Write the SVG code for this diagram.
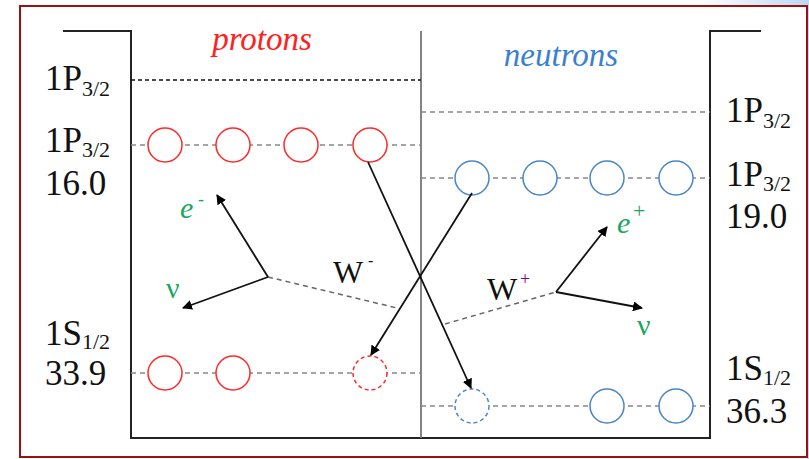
<svg xmlns="http://www.w3.org/2000/svg" width="809" height="459" viewBox="0 0 809 459">
<defs>
<linearGradient id="sky" x1="0" y1="0" x2="1" y2="0">
<stop offset="0" stop-color="#ffffff"/>
<stop offset="1" stop-color="#bcd8f4"/>
</linearGradient>
<marker id="ah" viewBox="0 0 10 10" refX="9" refY="5" markerWidth="10" markerHeight="10" markerUnits="userSpaceOnUse" orient="auto">
<path d="M0,0 L10,5 L0,10 z" fill="#000"/>
</marker>
<style>
.t{font-family:"Liberation Serif","Times New Roman",serif;fill:#111}
.lbl{font-size:35px}
.sub{font-size:22px}
.grn{fill:#1aa860}
.well{fill:none;stroke:#222;stroke-width:2}
.lvl{fill:none;stroke:#888;stroke-width:1.5;stroke-dasharray:5,4}
.lvlk{fill:none;stroke:#111;stroke-width:1.3;stroke-dasharray:4,3}
.wd{fill:none;stroke:#666;stroke-width:1.5;stroke-dasharray:5,4}
.pr{fill:#fff;stroke:#ff2a2a;stroke-width:1.5}
.nu{fill:#fff;stroke:#4a86c8;stroke-width:1.5}
.dash{stroke-dasharray:4,3}
.arr{fill:none;stroke:#111;stroke-width:1.8;marker-end:url(#ah)}
</style>
</defs>
<rect x="0" y="0" width="809" height="459" fill="#fff"/>
<rect x="700" y="0" width="109" height="7" fill="url(#sky)"/>
<rect x="807" y="0" width="2" height="459" fill="#bcd8f4"/>
<rect x="20" y="6" width="787" height="451" fill="none" stroke="#9b1010" stroke-width="2"/>

<g id="wells">
<polyline class="well" points="63,31 131,31 131,438 710,438 710,31 761,31"/>
<line x1="421" y1="31" x2="421" y2="438" stroke="#777" stroke-width="1.8"/>
</g>

<g id="levels">
<line class="lvlk" x1="131" y1="80" x2="421" y2="80"/>
<line class="lvl" x1="131" y1="145" x2="421" y2="145"/>
<line class="lvl" x1="131" y1="373" x2="421" y2="373"/>
<line class="lvl" x1="421" y1="112" x2="710" y2="112"/>
<line class="lvl" x1="421" y1="178" x2="710" y2="178"/>
<line class="lvl" x1="421" y1="406" x2="710" y2="406"/>
</g>

<g id="protons">
<circle class="pr" cx="165" cy="145" r="17"/>
<circle class="pr" cx="233" cy="145" r="17"/>
<circle class="pr" cx="301" cy="145" r="17"/>
<circle class="pr" cx="370" cy="145" r="17"/>
<circle class="pr" cx="165" cy="373" r="17"/>
<circle class="pr" cx="233" cy="373" r="17"/>
<circle class="pr dash" cx="370" cy="373" r="17"/>
</g>

<g id="neutrons">
<circle class="nu" cx="472" cy="178" r="17"/>
<circle class="nu" cx="540" cy="178" r="17"/>
<circle class="nu" cx="607" cy="178" r="17"/>
<circle class="nu" cx="676" cy="178" r="17"/>
<circle class="nu dash" cx="472" cy="406" r="17"/>
<circle class="nu" cx="607" cy="406" r="17"/>
<circle class="nu" cx="676" cy="406" r="17"/>
</g>

<g id="connectors">
<line class="arr" x1="368" y1="162" x2="471" y2="388"/>
<line class="arr" x1="472" y1="193" x2="371" y2="355"/>
<line class="wd" x1="268" y1="277" x2="397" y2="308"/>
<line class="arr" x1="268" y1="277" x2="217" y2="195"/>
<line class="arr" x1="268" y1="277" x2="183" y2="308"/>
<line class="wd" x1="445" y1="324" x2="556" y2="292"/>
<line class="arr" x1="556" y1="292" x2="607" y2="227"/>
<line class="arr" x1="556" y1="292" x2="642" y2="308"/>
</g>

<g id="labels">
<text class="t" x="262" y="50" font-size="33" font-style="italic" text-anchor="middle" style="fill:#ff2020">protons</text>
<text class="t" x="561" y="66" font-size="33" font-style="italic" text-anchor="middle" style="fill:#3a80d0">neutrons</text>

<text class="t lbl" x="45" y="90">1P<tspan class="sub" dy="6">3/2</tspan></text>
<text class="t lbl" x="45" y="152">1P<tspan class="sub" dy="5">3/2</tspan></text>
<text class="t lbl" x="45" y="195">16.0</text>
<text class="t lbl" x="45" y="345">1S<tspan class="sub" dy="4">1/2</tspan></text>
<text class="t lbl" x="45" y="385">33.9</text>

<text class="t lbl" x="726" y="122">1P<tspan class="sub" dy="6">3/2</tspan></text>
<text class="t lbl" x="726" y="186">1P<tspan class="sub" dy="5">3/2</tspan></text>
<text class="t lbl" x="726" y="228">19.0</text>
<text class="t lbl" x="726" y="380">1S<tspan class="sub" dy="5">1/2</tspan></text>
<text class="t lbl" x="726" y="423">36.3</text>

<text class="t grn" x="180" y="218" font-size="30" font-style="italic">e</text>
<text class="t grn" x="198" y="205" font-size="18">-</text>
<text class="t grn" x="166" y="298" font-size="30">ν</text>
<text class="t" x="333" y="283" font-size="32">W</text>
<text class="t" x="368" y="266" font-size="16">-</text>

<text class="t" x="487" y="300" font-size="32">W</text>
<text class="t" x="520" y="285" font-size="18" style="fill:#800080">+</text>
<text class="t grn" x="617" y="233" font-size="30" font-style="italic">e</text>
<text class="t grn" x="633" y="218" font-size="22">+</text>
<text class="t grn" x="637" y="335" font-size="30">ν</text>
</g>
</svg>
